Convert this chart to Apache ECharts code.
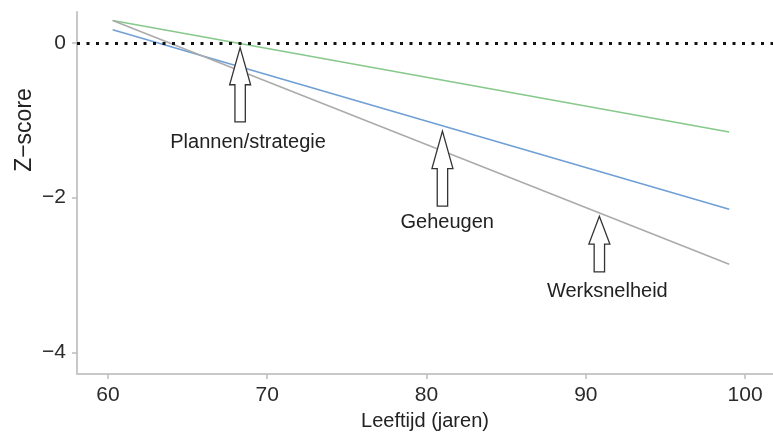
<!DOCTYPE html>
<html>
<head>
<meta charset="utf-8">
<script src="https://cdn.jsdelivr.net/npm/echarts@6/dist/echarts.min.js"></script>
<style>html,body{margin:0;padding:0;background:#fff}#c{width:773px;height:436px}</style>
</head>
<body>
<div id="c"></div>
<script>
// Data
const xTicks = [60, 70, 80, 90, 100];
const yTicks = [0, -2, -4];
const planning = [[60.3, 0.29], [99.0, -1.15]];   // green
const memory   = [[60.3, 0.17], [99.0, -2.15]];   // blue
const speed    = [[60.3, 0.29], [99.0, -2.86]];   // gray
const zeroLine = 0;
// arrows: [x, tip y, bottom y]
const arrows = [[68.3, -0.06, -1.02], [81.0, -1.14, -2.11], [90.85, -2.24, -2.96]];
// labels: [x, y, text]
const labels = [[68.8, -1.28, 'Plannen/strategie'], [81.3, -2.32, 'Geheugen'], [91.35, -3.21, 'Werksnelheid']];

const FONT = 'Arial, "Liberation Sans", sans-serif';
const chart = echarts.init(document.getElementById('c'), null, {renderer: 'canvas'});
const axisCol = '#c8c8c8';
chart.setOption({
  animation: false,
  backgroundColor: '#fff',
  grid: {left: 77, right: 0, top: 12, bottom: 61},
  xAxis: {
    type: 'value', min: 58.06, max: 101.75,
    splitLine: {show: false},
    axisLine: {show: true, onZero: false, lineStyle: {color: axisCol, width: 2}},
    axisTick: {show: true, customValues: xTicks, length: 5, lineStyle: {color: '#bdbdbd', width: 1.5}},
    axisLabel: {customValues: xTicks, margin: 11, fontSize: 21, color: '#2b2b2b', fontFamily: FONT},
    name: 'Leeftijd (jaren)', nameLocation: 'middle', nameGap: 33,
    nameTextStyle: {fontSize: 20, color: '#222', fontFamily: FONT}
  },
  yAxis: {
    type: 'value', min: -4.28, max: 0.40,
    splitLine: {show: false},
    axisLine: {show: true, onZero: false, lineStyle: {color: axisCol, width: 2}},
    axisTick: {show: true, customValues: yTicks, length: 5, lineStyle: {color: '#bdbdbd', width: 1.5}},
    axisLabel: {customValues: yTicks, margin: 11, fontSize: 21, color: '#2b2b2b', fontFamily: FONT,
      formatter: v => (v < 0 ? '\u2212' + Math.abs(v) : String(v))}
  },
  graphic: [{
    type: 'text', x: 25, y: 130, rotation: Math.PI / 2,
    style: {text: 'Z\u2212score', fill: '#222', font: '23px ' + FONT, align: 'center', verticalAlign: 'middle'}
  }],
  series: [
    {type: 'line', data: planning, symbol: 'none', lineStyle: {color: '#86c98a', width: 1.6}, z: 3,
      markLine: {silent: true, symbol: 'none', label: {show: false},
        lineStyle: {color: '#111', width: 3, type: [3, 6.5], cap: 'butt'},
        data: [{yAxis: zeroLine}]}},
    {type: 'line', data: memory, symbol: 'none', lineStyle: {color: '#6f9fd6', width: 1.6}, z: 3},
    {type: 'line', data: speed, symbol: 'none', lineStyle: {color: '#ababab', width: 1.6}, z: 3},
    {type: 'custom', data: arrows, z: 5,
      renderItem: function (params, api) {
        const t = api.coord([api.value(0), api.value(1)]);
        const b = api.coord([api.value(0), api.value(2)]);
        const len = b[1] - t[1];
        const h = len * 0.5, hw = 10.5, sw = 5.2;
        const x = t[0], y = t[1];
        return {type: 'polygon', shape: {points: [
          [x, y], [x + hw, y + h], [x + sw, y + h], [x + sw, b[1]], [x - sw, b[1]], [x - sw, y + h], [x - hw, y + h]
        ]}, style: {fill: '#fff', stroke: '#333', lineWidth: 1.3}};
      }},
    {type: 'custom', data: labels, z: 6,
      renderItem: function (params, api) {
        const p = api.coord([api.value(0), api.value(1)]);
        return {type: 'text', x: p[0], y: p[1], style: {text: labels[params.dataIndex][2], font: '20px ' + FONT, fill: '#222', align: 'center', verticalAlign: 'middle'}};
      }}
  ]
});
</script>
</body>
</html>
